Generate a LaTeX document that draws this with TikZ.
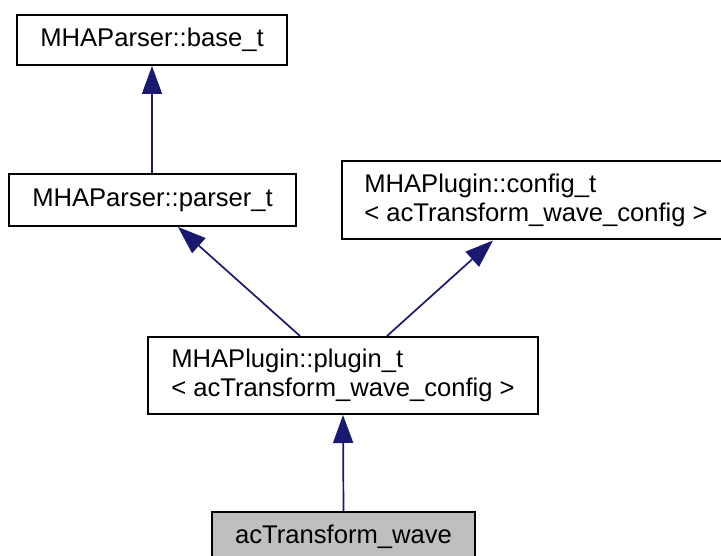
\documentclass[tikz,border=0pt]{standalone}
\usepackage{fontspec}
\setmainfont{Liberation Sans}
\usetikzlibrary{arrows.meta}
\definecolor{edgeblue}{HTML}{191970}
\definecolor{boxgray}{HTML}{BFBFBF}
\begin{document}
\begin{tikzpicture}[x=1pt,y=-1pt,
  cls/.style={draw=black, line width=2pt, fill=white, inner sep=0pt, align=left,
    font=\fontsize{25.6}{29}\selectfont},
  inh/.style={draw=edgeblue, line width=1.7pt,
    -{Triangle[length=28pt,width=20pt,fill=edgeblue]}}]
\useasboundingbox (0,0) rectangle (721,556);
\clip (0,0) rectangle (721,556);
\node[cls, minimum width=270pt, minimum height=50pt] (base) at (152,40) {MHAParser::base\_t};
\node[cls, minimum width=287pt, minimum height=52pt] (parser) at (152.5,200) {MHAParser::parser\_t};
\node[cls, minimum width=388pt, minimum height=78pt] (config) at (536,200.5) {MHAPlugin::config\_t\\ < acTransform\_wave\_config >};
\node[cls, minimum width=390pt, minimum height=77pt] (plugin) at (343,375.5) {MHAPlugin::plugin\_t\\ < acTransform\_wave\_config >};
\node[cls, fill=boxgray, minimum width=263pt, minimum height=50pt] (wave) at (343.5,537) {acTransform\_wave};
\draw[inh] (parser.north -| base.south) -- (base.south);
\draw[inh] ([xshift=-43pt]plugin.north) -- ([xshift=25.5pt]parser.south);
\draw[inh] ([xshift=44pt]plugin.north) -- ([xshift=-43pt]config.south);
\draw[inh] (wave.north) -- (plugin.south);
\end{tikzpicture}
\end{document}
